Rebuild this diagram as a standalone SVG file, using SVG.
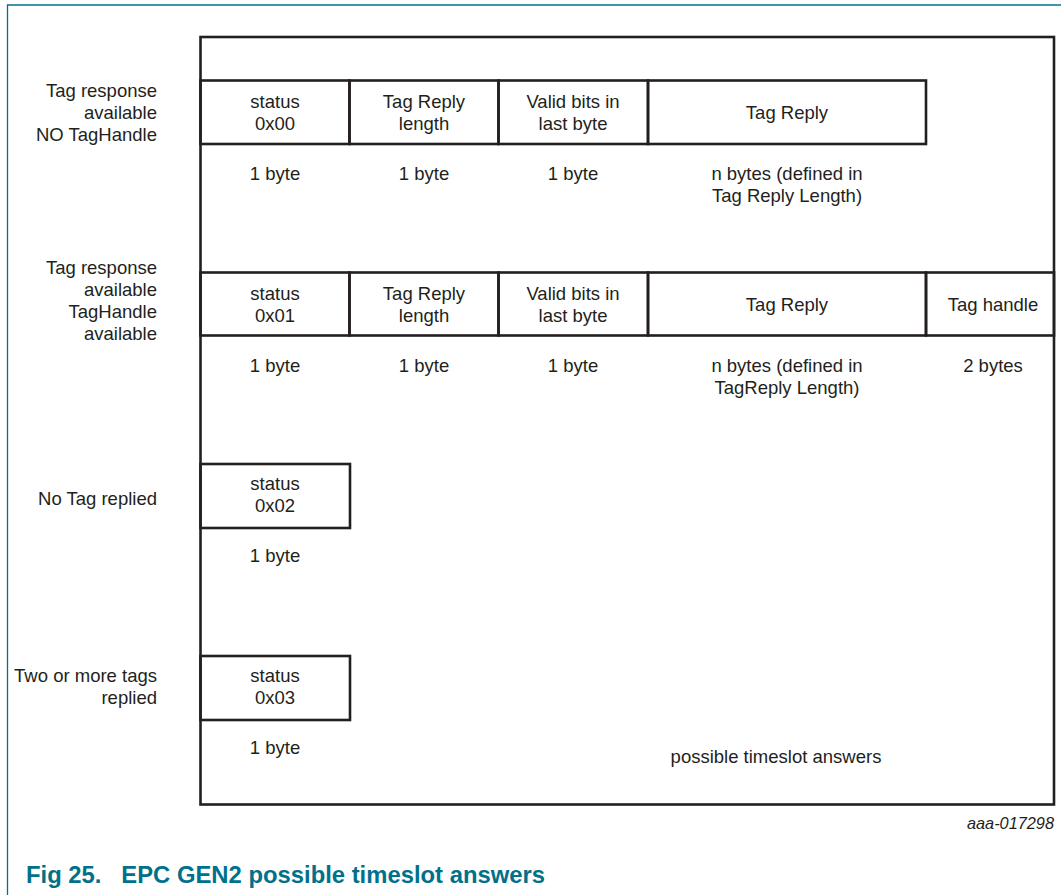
<svg xmlns="http://www.w3.org/2000/svg" width="1061" height="895" viewBox="0 0 1061 895">
<style>
.t{font-family:"Liberation Sans",Arial,sans-serif;font-size:18.5px;fill:#231f20}
.c{text-anchor:middle}
.r{text-anchor:end}
.b{fill:none;stroke:#231f20;stroke-width:2.6}
.frame{fill:none;stroke:#00718a;stroke-width:1.3}
</style>
<rect width="1061" height="895" fill="#fff"/>
<polyline class="frame" points="7.5,895 7.5,5 1061,5"/>
<g id="outer"><rect class="b" x="200.5" y="37" width="853.5" height="767.5"/></g>
<g id="row1">
<g id="r1-status"><rect class="b" x="200.5" y="80.5" width="149" height="63.5"/><text class="t c" x="275" y="108">status</text><text class="t c" x="275" y="130">0x00</text></g>
<g id="r1-len"><rect class="b" x="349.5" y="80.5" width="149" height="63.5"/><text class="t c" x="424" y="108">Tag Reply</text><text class="t c" x="424" y="130">length</text></g>
<g id="r1-valid"><rect class="b" x="498.5" y="80.5" width="149.5" height="63.5"/><text class="t c" x="573" y="108">Valid bits in</text><text class="t c" x="573" y="130">last byte</text></g>
<g id="r1-reply"><rect class="b" x="648" y="80.5" width="278" height="63.5"/><text class="t c" x="787" y="119">Tag Reply</text></g>
<text class="t r" x="157" y="97">Tag response</text><text class="t r" x="157" y="119">available</text><text class="t r" x="157" y="141">NO TagHandle</text>
<text class="t c" x="275" y="180">1 byte</text><text class="t c" x="424" y="180">1 byte</text><text class="t c" x="573" y="180">1 byte</text>
<text class="t c" x="787" y="180">n bytes (defined in</text><text class="t c" x="787" y="202">Tag Reply Length)</text>
</g>
<g id="row2">
<g id="r2-status"><rect class="b" x="200.5" y="272.5" width="149" height="63"/><text class="t c" x="275" y="300">status</text><text class="t c" x="275" y="322">0x01</text></g>
<g id="r2-len"><rect class="b" x="349.5" y="272.5" width="149" height="63"/><text class="t c" x="424" y="300">Tag Reply</text><text class="t c" x="424" y="322">length</text></g>
<g id="r2-valid"><rect class="b" x="498.5" y="272.5" width="149.5" height="63"/><text class="t c" x="573" y="300">Valid bits in</text><text class="t c" x="573" y="322">last byte</text></g>
<g id="r2-reply"><rect class="b" x="648" y="272.5" width="278" height="63"/><text class="t c" x="787" y="311">Tag Reply</text></g>
<g id="r2-handle"><rect class="b" x="926" y="272.5" width="128" height="63"/><text class="t c" x="993" y="311">Tag handle</text></g>
<text class="t r" x="157" y="274">Tag response</text><text class="t r" x="157" y="296">available</text><text class="t r" x="157" y="318">TagHandle</text><text class="t r" x="157" y="340">available</text>
<text class="t c" x="275" y="372">1 byte</text><text class="t c" x="424" y="372">1 byte</text><text class="t c" x="573" y="372">1 byte</text>
<text class="t c" x="787" y="372">n bytes (defined in</text><text class="t c" x="787" y="394">TagReply Length)</text>
<text class="t c" x="993" y="372">2 bytes</text>
</g>
<g id="row3">
<g id="r3-status"><rect class="b" x="200.5" y="464" width="149.5" height="64"/><text class="t c" x="275" y="490">status</text><text class="t c" x="275" y="512">0x02</text></g>
<text class="t r" x="157" y="505">No Tag replied</text>
<text class="t c" x="275" y="562">1 byte</text>
</g>
<g id="row4">
<g id="r4-status"><rect class="b" x="200.5" y="656" width="149.5" height="64"/><text class="t c" x="275" y="682">status</text><text class="t c" x="275" y="704">0x03</text></g>
<text class="t r" x="157" y="682">Two or more tags</text><text class="t r" x="157" y="704">replied</text>
<text class="t c" x="275" y="754">1 byte</text>
<text class="t c" x="776" y="763">possible timeslot answers</text>
</g>
<text x="967" y="829" font-family="'Liberation Sans',Arial,sans-serif" font-size="17" font-style="italic" fill="#231f20" textLength="87" lengthAdjust="spacingAndGlyphs">aaa-017298</text>
<text x="26" y="883" font-family="'Liberation Sans',Arial,sans-serif" font-size="24" font-weight="bold" fill="#00718a" xml:space="preserve" textLength="519" lengthAdjust="spacingAndGlyphs">Fig 25.   EPC GEN2 possible timeslot answers</text>
</svg>
